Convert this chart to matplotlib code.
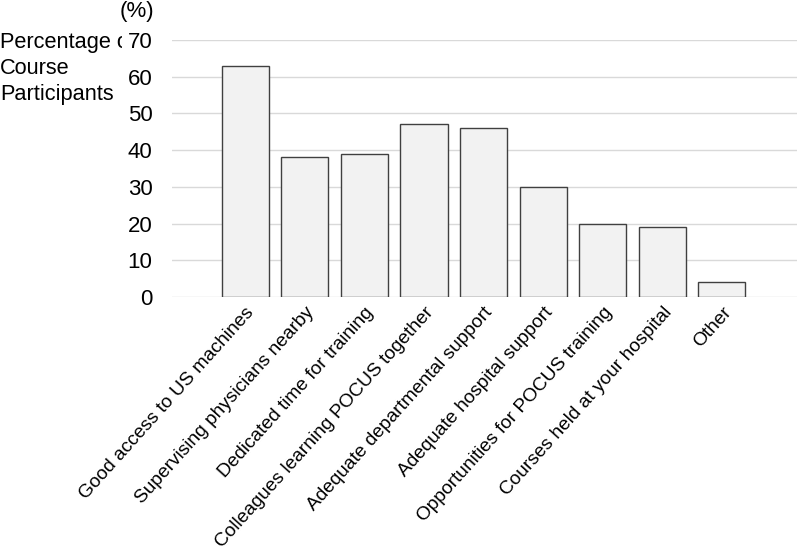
import matplotlib.pyplot as plt

plt.rcParams['font.family'] = ['Liberation Sans', 'DejaVu Sans']

categories = [
    "Good access to US machines",
    "Supervising physicians nearby",
    "Dedicated time for training",
    "Colleagues learning POCUS together",
    "Adequate departmental support",
    "Adequate hospital support",
    "Opportunities for POCUS training",
    "Courses held at your hospital",
    "Other",
]
percentages = [63, 38, 39, 47, 46, 30, 20, 19, 4]
y_ticks = [0, 10, 20, 30, 40, 50, 60, 70]
ylabel_lines = ["Percentage of", "Course", "Participants"]

fig = plt.figure(figsize=(7.97, 5.52), dpi=100)
ax = fig.add_axes([0.2158, 0.462, 0.7842, 0.4655])

x = range(len(categories))
ax.bar(x, percentages, width=0.79, color="#f2f2f2", edgecolor="#404040",
       linewidth=1.0, zorder=3)

ax.set_ylim(0, 70)
ax.set_xlim(-1.23, 9.26)
ax.set_yticks(y_ticks)
ax.grid(axis="y", color="#d9d9d9", linewidth=1.0, zorder=0)
for s in ax.spines.values():
    s.set_visible(False)
ax.tick_params(axis="y", length=0, pad=14, labelsize=16)
ax.tick_params(axis="x", length=0, pad=5)
ax.set_xticks(list(x))
ax.set_xticklabels(categories, rotation=48, ha="right", rotation_mode="anchor",
                   fontsize=13.8)
for lbl in ax.get_yticklabels():
    lbl.set_bbox(dict(facecolor="white", edgecolor="none", pad=4.5))

# y axis title, one line per text; drawn below the tick labels so "of"
# hides behind "70" like in the original
for i, line in enumerate(ylabel_lines):
    ax.text(0.0, 1 - (48 + 26 * i) / 552, line, fontsize=15.7,
            va="baseline", ha="left", transform=fig.transFigure,
            clip_on=False, zorder=1)
fig.text(120 / 797, 1 - 1 / 552, "(%)", fontsize=16, va="top", ha="left")

fig.savefig("out.png", dpi=100)
